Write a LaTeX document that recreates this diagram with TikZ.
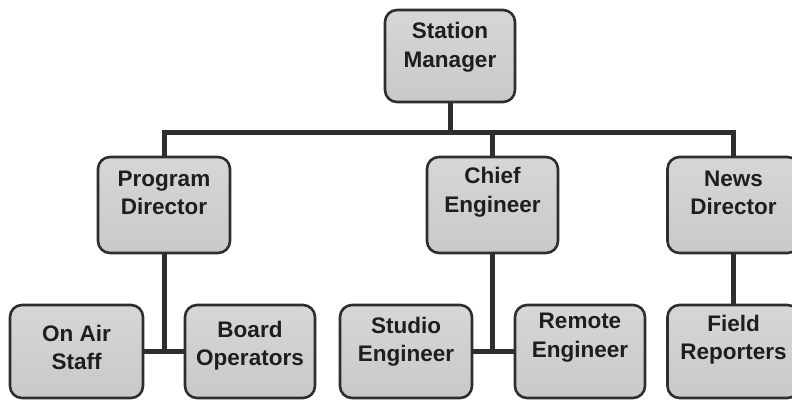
\documentclass[tikz,border=0pt]{standalone}
\usepackage{fontspec}
\setmainfont{Liberation Sans}
\definecolor{boxfill}{HTML}{C9C9C9}
\definecolor{boxline}{HTML}{2E2E2E}
\definecolor{inkcol}{HTML}{1E1E1E}
\begin{document}
\begin{tikzpicture}[x=1pt,y=-1pt,
  orgbox/.style={draw=boxline, line width=2.6pt, rounded corners=12pt,
    top color=boxfill!75!white, bottom color=boxfill, inner sep=0pt},
  orgtext/.style={text=inkcol, align=center, inner sep=0pt,
    font=\fontsize{22.5}{28.5}\selectfont\bfseries},
  conn/.style={draw=boxline, line width=5pt}
]
\useasboundingbox (0,0) rectangle (792,401);
\fill[white] (0,0) rectangle (792,401);
\coordinate (bar) at (0,133);

% boxes
\node[orgbox, minimum width=130pt, minimum height=92pt] (sm) at (450,56) {};
\node[orgbox, minimum width=132pt, minimum height=96pt] (pd) at (164,205) {};
\node[orgbox, minimum width=131pt, minimum height=96pt] (ce) at (492.5,205) {};
\node[orgbox, minimum width=132pt, minimum height=96pt] (nd) at (733.5,205) {};
\node[orgbox, minimum width=133pt, minimum height=93pt] (oas) at (76.5,351.5) {};
\node[orgbox, minimum width=130pt, minimum height=93pt] (bo) at (250,351.5) {};
\node[orgbox, minimum width=132pt, minimum height=93pt] (se) at (406,351.5) {};
\node[orgbox, minimum width=130pt, minimum height=93pt] (re) at (580,351.5) {};
\node[orgbox, minimum width=132pt, minimum height=93pt] (fr) at (733.5,351.5) {};

% texts
\node[orgtext] (smt) at ([yshift=9pt]sm.center) {Station\\Manager};
\node[orgtext] (pdt) at ([yshift=12pt]pd.center) {Program\\Director};
\node[orgtext] (cet) at ([yshift=13pt]ce.center) {Chief\\Engineer};
\node[orgtext] (ndt) at ([yshift=12pt]nd.center) {News\\Director};
\node[orgtext] (oast) at ([yshift=4pt]oas.center) {On Air\\Staff};
\node[orgtext] (bot) at ([yshift=6pt]bo.center) {Board\\Operators};
\node[orgtext] (set) at ([yshift=10pt]se.center) {Studio\\Engineer};
\node[orgtext] (ret) at ([yshift=14pt]re.center) {Remote\\Engineer};
\node[orgtext] (frt) at ([yshift=12pt]fr.center) {Field\\Reporters};

% connectors
\draw[conn] (sm.south) -- (sm.south |- bar);
\draw[conn] (pd.north) -- (pd.north |- bar) -- (nd.north |- bar) -- (nd.north);
\draw[conn] (ce.north) -- (ce.north |- bar);
\draw[conn] (pd.south) -- (pd.south |- oas.east);
\draw[conn] (oas.east) -- (bo.west);
\draw[conn] (ce.south) -- (ce.south |- se.east);
\draw[conn] (se.east) -- (re.west);
\draw[conn] (nd.south) -- (fr.north);
\end{tikzpicture}
\end{document}
